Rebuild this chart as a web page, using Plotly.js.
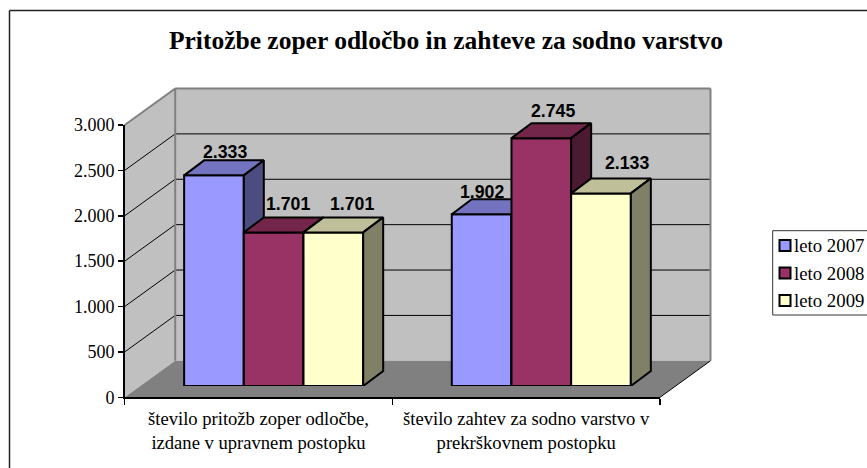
<!DOCTYPE html>
<html><head><meta charset="utf-8">
<script src="https://cdn.plot.ly/plotly-3.0.1.min.js"></script>
<style>html,body{margin:0;padding:0;background:#fff}#c{width:867px;height:468px}</style>
</head><body><div id="c"></div>
<script>
const categories = ["število pritožb zoper odločbe,<br>izdane v upravnem postopku", "število zahtev za sodno varstvo v<br>prekrškovnem postopku"];
const seriesNames = ["leto 2007", "leto 2008", "leto 2009"];
const leto2007 = [2333, 1902];
const leto2008 = [1701, 2745];
const leto2009 = [1701, 2133];
const yTicks = [0, 500, 1000, 1500, 2000, 2500, 3000];
const title = "Pritožbe zoper odločbo in zahteve za sodno varstvo";

const W = 867, H = 468;
const series = [leto2007, leto2008, leto2009];
const fronts = ["#9999FF", "#993366", "#FFFFCC"];
const tops = ["#7373BF", "#732649", "#BFBF99"];
const sides = ["#4C4C80", "#4C1933", "#808066"];
const fmt = v => String(v).replace(/\B(?=(\d{3})+$)/g, ".");
const px = x => x / W, py = y => 1 - y / H;

// axis frame in pixels
const X0 = 124.7, X1 = 660, Y0 = 397.3, Y3000 = 125, DX = 50.5, DY = 36.5;
const yPx = v => Y0 - v * (Y0 - Y3000) / 3000;
// bars sit inside the 3D floor
const BX = 15, BY0 = 386, BSCALE = 0.0903;
const catW = (X1 - X0) / 2;
const depthX = 20 / catW, depthY = 15 / BSCALE;
const barW = 0.223, groupL = -0.334;

const poly = (pts) => {
  return "M" + pts.map(p => px(p[0]) + "," + py(p[1])).join("L") + "Z";
};
const shapes = [];
const addPoly = (pts, fill, color, width) => shapes.push({type:"path", xref:"paper", yref:"paper", layer:"below", path:poly(pts), fillcolor:fill, line:{color:color||fill, width:width===undefined?0:width}});
const addLine = (a, b, color, width) => shapes.push({type:"line", xref:"paper", yref:"paper", layer:"below", x0:px(a[0]), y0:py(a[1]), x1:px(b[0]), y1:py(b[1]), line:{color, width}});

// walls and floor
addPoly([[X0,Y3000],[X0+DX,Y3000-DY],[X0+DX,Y0-DY],[X0,Y0]], "#C0C0C0");
addPoly([[X0+DX,Y3000-DY],[X1+DX,Y3000-DY],[X1+DX,Y0-DY],[X0+DX,Y0-DY]], "#C0C0C0");
addPoly([[X0,Y0],[X1,Y0],[X1+DX,Y0-DY],[X0+DX,Y0-DY]], "#808080");
yTicks.slice(1, -1).forEach(v => {
  addLine([X0, yPx(v)], [X0+DX, yPx(v)-DY], "#000", 1);
  addLine([X0+DX, yPx(v)-DY], [X1+DX, yPx(v)-DY], "#000", 1);
});
addLine([X0, Y3000], [X0+DX, Y3000-DY], "#808080", 2);
addLine([X0+DX, Y3000-DY], [X1+DX, Y3000-DY], "#808080", 2);
addLine([X1+DX, Y3000-DY], [X1+DX, Y0-DY], "#808080", 2);
addLine([X0+DX, Y3000-DY], [X0+DX, Y0-DY], "#808080", 2);
addLine([X1, Y0], [X1+DX, Y0-DY], "#000", 1);
// outer frame (top and left edges fall inside the picture)
addLine([9.5, 468], [9.5, 10.5], "#222", 1.5);
addLine([9.5, 10.5], [867, 10.5], "#222", 1.5);

// legend drawn by hand so that its swatches sit tight against the text
const LX = 772.7, LT = 230.7, LB = 315, LSTEP = 27.5;
shapes.push({type:"rect", xref:"paper", yref:"paper", x0:px(LX), x1:px(870), y0:py(LT), y1:py(LB), line:{color:"#333", width:1}, fillcolor:"#fff", layer:"below"});
const annotations = [];
seriesNames.forEach((n, i) => {
  const cy = 245.5 + i * LSTEP;
  shapes.push({type:"rect", xref:"paper", yref:"paper", x0:px(779.5), x1:px(790.5), y0:py(cy-5.5), y1:py(cy+5.5), fillcolor:fronts[i], line:{color:"#000", width:2}, layer:"below"});
  annotations.push({xref:"paper", yref:"paper", x:px(792), y:py(cy), xanchor:"left", yanchor:"middle", text:n, showarrow:false, font:{family:"Liberation Serif", size:18.8, color:"#000"}});
});

const labelNudge = [[[11,-8.5],[0,-7]],[[14.5,-13.5],[11.5,-12]],[[19,-13],[25.6,-15.5]]];

const traces = [{type:"scatter", x:categories, y:[0,0], mode:"none", hoverinfo:"skip", showlegend:false, xaxis:"x", yaxis:"y"}];
series.forEach((vals, i) => {
  const xa = "x" + (i + 2), ya = "y" + (i + 2);
  const cats = vals.map((_, k) => k);
  traces.push({type:"bar", name:seriesNames[i], x:cats, y:vals, width:barW, offset:groupL + i*barW, marker:{color:fronts[i], line:{color:"#000", width:2}}, xaxis:xa, yaxis:ya, showlegend:false, hoverinfo:"y"});
  vals.forEach((v, k) => {
    const l = k + groupL + i*barW, r = l + barW;
    traces.push({type:"scatter", mode:"lines", x:[l, l+depthX, r+depthX, r, l], y:[v, v+depthY, v+depthY, v, v], fill:"toself", fillcolor:tops[i], line:{color:"#000", width:2}, xaxis:xa, yaxis:ya, showlegend:false, hoverinfo:"skip"});
    traces.push({type:"scatter", mode:"lines", x:[r, r+depthX, r+depthX, r, r], y:[v, v+depthY, depthY, 0, v], fill:"toself", fillcolor:sides[i], line:{color:"#000", width:2}, xaxis:xa, yaxis:ya, showlegend:false, hoverinfo:"skip"});
    annotations.push({xref:xa, yref:ya, x:(l+r)/2, y:v, text:"<b>"+fmt(v)+"</b>", showarrow:false, xanchor:"center", yanchor:"middle", xshift:labelNudge[i][k][0], yshift:-labelNudge[i][k][1]+15, font:{family:"Liberation Sans", size:17.7, color:"#000"}});
  });
});

const hiddenX = {type:"linear", range:[-0.5,1.5], domain:[px(X0+BX), px(X1+BX)], visible:false, fixedrange:true};
const hiddenY = {type:"linear", range:[0,3000], domain:[(H-BY0)/H, (H-BY0+BSCALE*3000)/H], visible:false, fixedrange:true};

const layout = {
  width:W, height:H, autosize:false, margin:{l:0,r:0,t:0,b:0}, paper_bgcolor:"#fff", plot_bgcolor:"rgba(0,0,0,0)",
  showlegend:false, shapes, annotations, separators:",.",
  title:{text:"<b>"+title+"</b>", x:446/W, xanchor:"center", y:1-40/H, yanchor:"middle", font:{family:"Liberation Serif", size:25.5, color:"#000"}},
  xaxis:{type:"category", categoryorder:"array", categoryarray:categories, range:[-0.5,1.5], tickson:"boundaries", domain:[px(X0), px(X1)], anchor:"y", showline:true, linecolor:"#000", linewidth:1.5, ticks:"outside", ticklen:6, tickwidth:1.5, tickcolor:"#000", ticklabelstandoff:4, showgrid:false, zeroline:false, tickfont:{family:"Liberation Serif", size:18.6, color:"#000"}, tickangle:0, automargin:false, fixedrange:true},
  yaxis:{type:"linear", range:[0,3000], domain:[(H-Y0)/H, (H-Y3000)/H], anchor:"x", tickvals:yTicks, tickformat:",d", showline:true, linecolor:"#000", linewidth:1.5, ticks:"outside", ticklen:5, tickwidth:1.5, tickcolor:"#000", showgrid:false, zeroline:false, tickfont:{family:"Liberation Serif", size:18, color:"#000"}, automargin:false, fixedrange:true},
  xaxis2:{...hiddenX, anchor:"y2"}, yaxis2:{...hiddenY, anchor:"x2"},
  xaxis3:{...hiddenX, overlaying:"x2", anchor:"y3"}, yaxis3:{...hiddenY, overlaying:"y2", anchor:"x3"},
  xaxis4:{...hiddenX, overlaying:"x2", anchor:"y4"}, yaxis4:{...hiddenY, overlaying:"y2", anchor:"x4"}
};
Plotly.newPlot("c", traces, layout, {displayModeBar:false, staticPlot:true});
</script></body></html>
